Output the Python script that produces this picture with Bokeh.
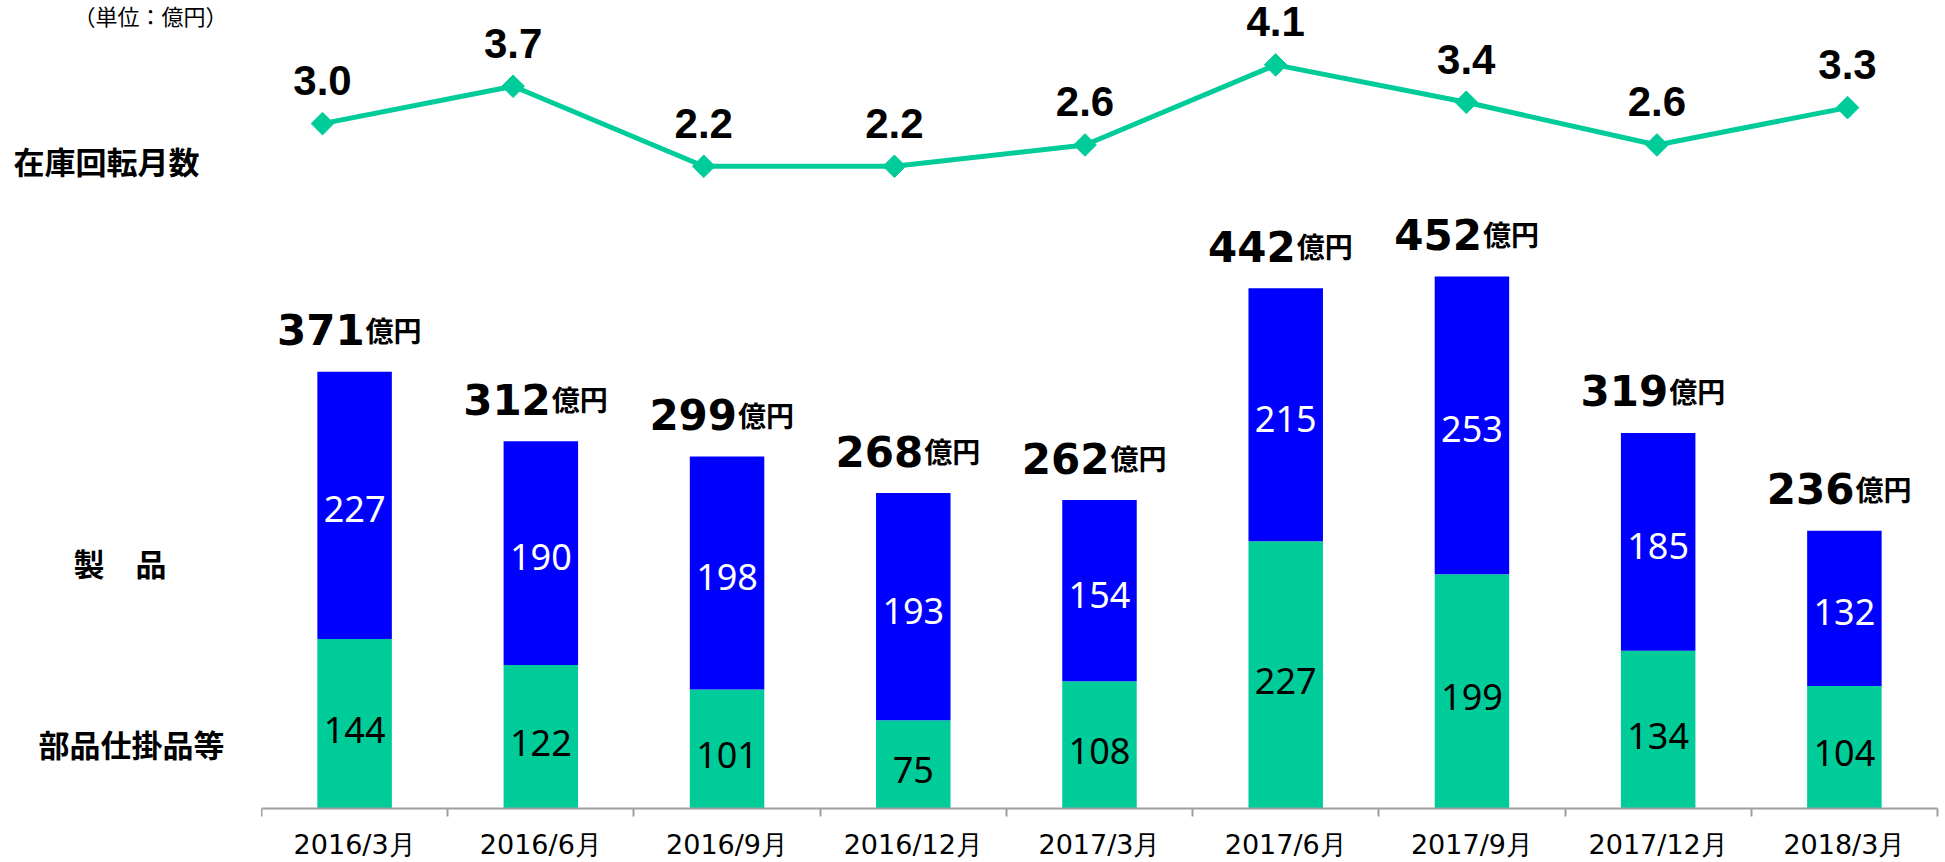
import numpy as np
from bokeh.plotting import figure
from bokeh.layouts import row
from bokeh.models import ColumnDataSource, Range1d, FixedTicker
from bokeh.core.properties import value
from bokeh.embed import file_html
from bokeh.resources import INLINE

# ---- data ----
categories = ["2016/3月", "2016/6月", "2016/9月", "2016/12月", "2017/3月",
              "2017/6月", "2017/9月", "2017/12月", "2018/3月"]
parts = [144, 122, 101, 75, 108, 227, 199, 134, 104]        # 部品仕掛品等
products = [227, 190, 198, 193, 154, 215, 253, 185, 132]    # 製品
turnover = [3.0, 3.7, 2.2, 2.2, 2.6, 4.1, 3.4, 2.6, 3.3]     # 在庫回転月数
side_texts = ["（単位：億円）", "在庫回転月数", "製　品", "部品仕掛品等"]

GREEN = "#00CC99"
BLUE = "#0000FF"
GRAY = "#A0A0A0"

n = len(categories)
idx = list(range(n))
totals = [a + b for a, b in zip(parts, products)]

src = ColumnDataSource(dict(
    x=idx,
    parts=parts,
    products=products,
    top=totals,
    parts_mid=[a / 2 for a in parts],
    prod_mid=[a + b / 2 for a, b in zip(parts, products)],
    parts_txt=[str(a) for a in parts],
    prod_txt=[str(b) for b in products],
    tot_txt=[str(t) for t in totals],
    unit=["億円"] * n,
))
lsrc = ColumnDataSource(dict(x=idx, y=turnover, txt=[f"{v:.1f}" for v in turnover]))

H = 862
FRAME_H = 810  # frames of the row are aligned: both end at the x axis line

# ---- left label panel ----
left = figure(width=261, height=H, output_backend="svg", toolbar_location=None,
              x_range=Range1d(0, 261), y_range=Range1d(FRAME_H, 0),
              x_axis_location=None, y_axis_location=None,
              min_border_left=0, min_border_right=0, min_border_top=0, min_border_bottom=0)
left.outline_line_color = None
left.xgrid.visible = False
left.ygrid.visible = False
left.text(x=[73], y=[15], text=[side_texts[0]], text_align="left", text_baseline="middle",
          text_font=value("Noto Sans CJK JP"), text_font_size="22px", text_color="black")
left.text(x=[13, 73, 38], y=[160, 563, 745], text=side_texts[1:], text_align="left",
          text_baseline="middle", text_font=value("Noto Sans CJK JP"),
          text_font_style="bold", text_font_size="31px", text_color="black")

# ---- main chart ----
p = figure(width=1684, height=H, output_backend="svg", toolbar_location=None,
           x_range=Range1d(-0.5, 8.5), y_range=Range1d(0, 686.4),
           y_axis_location=None,
           min_border_left=0, min_border_right=8, min_border_top=0, min_border_bottom=52)
p.outline_line_color = None
p.xgrid.visible = False
p.ygrid.visible = False

p.extra_x_ranges = {"lx": Range1d(-0.320, 8.472)}
p.extra_y_ranges = {"ly": Range1d(-9.834, 5.307)}

# stacked bars
p.vbar(x="x", bottom=0, top="parts", width=0.4, source=src, fill_color=GREEN, line_color=None)
p.vbar(x="x", bottom="parts", top="top", width=0.4, source=src, fill_color=BLUE, line_color=None)

p.text(x="x", y="parts_mid", text="parts_txt", source=src, text_align="center",
       text_baseline="middle", y_offset=6, text_color="black", text_font=value("Noto Sans"),
       text_font_size="36px")
p.text(x="x", y="prod_mid", text="prod_txt", source=src, text_align="center",
       text_baseline="middle", y_offset=4, text_color="white", text_font=value("Noto Sans"),
       text_font_size="36px")

# totals
p.text(x="x", y="top", text="tot_txt", source=src, text_align="right",
       text_baseline="alphabetic", x_offset=10, y_offset=-42, text_color="black",
       text_font=value("DejaVu Sans"), text_font_style="bold", text_font_size="42px")
p.text(x="x", y="top", text="unit", source=src, text_align="left",
       text_baseline="alphabetic", x_offset=11, y_offset=-42, text_color="black",
       text_font=value("Noto Sans CJK JP"), text_font_style="bold", text_font_size="28px")

# turnover line
p.line(x="x", y="y", source=lsrc, x_range_name="lx", y_range_name="ly",
       line_color=GREEN, line_width=5)
p.scatter(x="x", y="y", source=lsrc, x_range_name="lx", y_range_name="ly",
          marker="square", angle=np.pi / 4, size=16, fill_color=GREEN, line_color=GREEN)
p.text(x="x", y="y", text="txt", source=lsrc, x_range_name="lx", y_range_name="ly",
       text_align="center", text_baseline="alphabetic", y_offset=-43,
       text_color="black", text_font=value("Liberation Sans"), text_font_style="bold",
       text_font_size="42px")

# x axis
ax = p.xaxis[0]
ax.ticker = FixedTicker(ticks=idx, minor_ticks=[i - 0.5 for i in range(n + 1)])
ax.major_label_overrides = {i: c for i, c in enumerate(categories)}
ax.major_tick_out = 0
ax.major_tick_in = 0
ax.minor_tick_out = 8
ax.minor_tick_in = 0
ax.minor_tick_line_color = GRAY
ax.minor_tick_line_width = 2
ax.axis_line_color = GRAY
ax.axis_line_width = 2
ax.major_label_standoff = 12
ax.major_label_text_font = "DejaVu Sans"
ax.major_label_text_font_size = "27px"
ax.major_label_text_color = "black"

layout = row(left, p, spacing=0)
open("out.html", "w").write(file_html(layout, INLINE))
